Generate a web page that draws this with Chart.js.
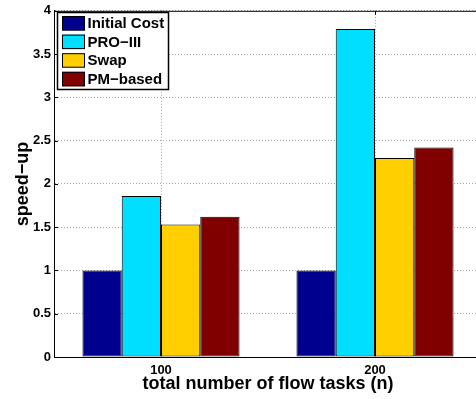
<!DOCTYPE html>
<html>
<head>
<meta charset="utf-8">
<script src="https://cdn.jsdelivr.net/npm/chart.js@4.4.0/dist/chart.umd.min.js"></script>
<style>
  html, body { margin: 0; padding: 0; background: #fff; overflow: hidden; }
  #wrap { width: 476px; height: 399px; overflow: hidden; }
</style>
</head>
<body>
<div id="wrap"><canvas id="chart" width="490" height="399"></canvas></div>
<script>
// data
const categories = ['100', '200'];
const seriesNames = ['Initial Cost', 'PRO\u2212III', 'Swap', 'PM\u2212based'];
const initialCost = [1, 1];
const proIII = [1.86, 3.79];
const swap = [1.53, 2.30];
const pmBased = [1.62, 2.42];
const yTicks = [0, 0.5, 1, 1.5, 2, 2.5, 3, 3.5, 4];

const colors = ['#00008f', '#00dfff', '#ffcf00', '#800000'];
const FONT = "'Liberation Sans', Arial, Helvetica, sans-serif";
const GRID = '#a8a8a8';

// dotted vertical grid at the category centres (behind the bars)
const xGridPlugin = {
  id: 'xGrid',
  beforeDatasetsDraw(chart) {
    const { ctx, chartArea: a, scales } = chart;
    ctx.save();
    ctx.strokeStyle = GRID;
    ctx.lineWidth = 1;
    ctx.setLineDash([1, 2]);
    ctx.beginPath();
    categories.forEach((c, i) => {
      const x = Math.round(scales.x.getPixelForValue(i)) + 0.5;
      ctx.moveTo(x, a.top);
      ctx.lineTo(x, a.bottom);
    });
    ctx.stroke();
    ctx.restore();
  }
};

// MATLAB style box: top edge plus inward tick marks
const framePlugin = {
  id: 'frame',
  afterDraw(chart) {
    const { ctx, chartArea: a, scales } = chart;
    ctx.save();
    ctx.strokeStyle = '#000';
    ctx.lineWidth = 1;
    ctx.beginPath();
    ctx.moveTo(a.left, a.top + 0.5);
    ctx.lineTo(a.right, a.top + 0.5);
    yTicks.forEach(v => {
      const y = Math.round(scales.y.getPixelForValue(v)) + 0.5;
      ctx.moveTo(a.left, y);
      ctx.lineTo(a.left + 4, y);
    });
    categories.forEach((c, i) => {
      const x = Math.round(scales.x.getPixelForValue(i)) + 0.5;
      ctx.moveTo(x, a.top);
      ctx.lineTo(x, a.top + 4);
    });
    ctx.stroke();
    ctx.restore();
  }
};

// legend box in the upper left corner of the axes
const legendBoxPlugin = {
  id: 'legendBox',
  afterDraw(chart) {
    const { ctx } = chart;
    const x0 = 57.5, y0 = 12.5, w = 111, h = 77;
    ctx.save();
    ctx.fillStyle = '#fff';
    ctx.fillRect(x0, y0, w, h);
    ctx.strokeStyle = '#000';
    ctx.lineWidth = 1.5;
    ctx.strokeRect(x0, y0, w, h);
    ctx.font = 'bold 15px ' + FONT;
    ctx.textBaseline = 'middle';
    chart.data.datasets.forEach((ds, i) => {
      const top = 16 + i * 18.6;
      ctx.fillStyle = ds.backgroundColor;
      ctx.fillRect(62, top, 23, 14.5);
      ctx.lineWidth = 1;
      ctx.strokeStyle = '#000';
      ctx.strokeRect(62.5, top + 0.5, 22, 13.5);
      ctx.fillStyle = '#000';
      ctx.fillText(ds.label, 87.5, top + 7.8);
    });
    ctx.restore();
  }
};

const seriesData = [initialCost, proIII, swap, pmBased];

new Chart(document.getElementById('chart'), {
  type: 'bar',
  data: {
    labels: categories,
    datasets: seriesNames.map((name, i) => ({
      label: name,
      data: seriesData[i],
      backgroundColor: colors[i],
      borderColor: '#000',
      borderWidth: 1,
      borderSkipped: false,
      barPercentage: 1.0,
      categoryPercentage: 0.734
    }))
  },
  options: {
    responsive: false,
    animation: false,
    // axes box runs to x = 482, just past the visible 476 px
    layout: { padding: { top: 8, right: 8, left: 0, bottom: 0 } },
    plugins: { legend: { display: false }, tooltip: { enabled: false } },
    scales: {
      x: {
        offset: true,
        grid: { display: false, drawTicks: false },
        border: { display: true, color: '#000', width: 1 },
        ticks: { color: '#000', font: { family: FONT, size: 13, weight: 'bold' }, padding: 6 },
        title: {
          display: true,
          text: 'total number of flow tasks (n)',
          color: '#000',
          font: { family: FONT, size: 18, weight: 'bold' },
          padding: { top: 0, bottom: 4 }
        },
        afterFit(scale) { scale.height = 42; }
      },
      y: {
        min: 0,
        max: 4,
        afterBuildTicks(scale) { scale.ticks = yTicks.map(v => ({ value: v })); },
        grid: { color: GRID, lineWidth: 1, drawTicks: false },
        border: { display: true, color: '#000', width: 1, dash: [1, 2] },
        ticks: {
          color: '#000',
          font: { family: FONT, size: 13, weight: 'bold' },
          padding: 3,
          callback: v => String(v)
        },
        title: {
          display: true,
          text: 'speed\u2212up',
          color: '#000',
          font: { family: FONT, size: 18, weight: 'bold' },
          padding: { top: 12, bottom: 0 }
        },
        afterFit(scale) { scale.width = 54; }
      }
    }
  },
  plugins: [xGridPlugin, framePlugin, legendBoxPlugin]
});
</script>
</body>
</html>
